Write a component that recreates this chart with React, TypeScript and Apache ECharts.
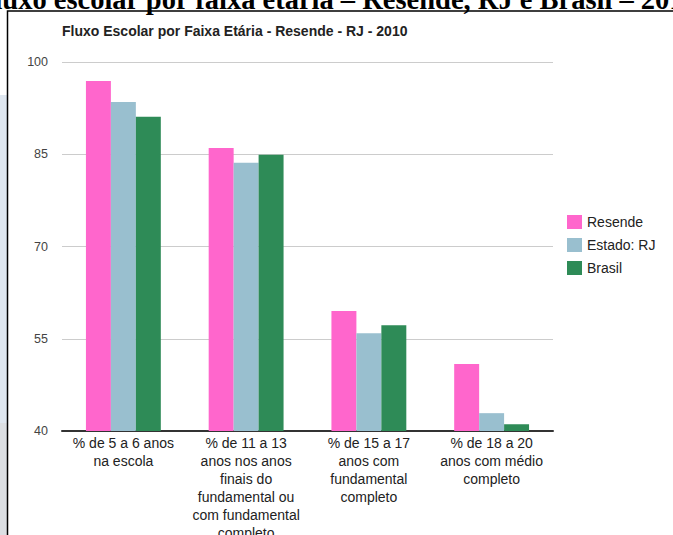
import React, { useEffect, useRef } from "react";
import * as echarts from "echarts";

const categories = [
  "% de 5 a 6 anos\nna escola",
  "% de 11 a 13\nanos nos anos\nfinais do\nfundamental ou\ncom fundamental\ncompleto",
  "% de 15 a 17\nanos com\nfundamental\ncompleto",
  "% de 18 a 20\nanos com médio\ncompleto",
];
const resende = [96.9, 86.0, 59.5, 50.9];
const estadoRJ = [93.5, 83.6, 55.9, 42.9];
const brasil = [91.1, 84.9, 57.2, 41.1];
const seriesNames = ["Resende", "Estado: RJ", "Brasil"];
const seriesColors = ["#ff66cc", "#99bfcf", "#2e8b57"];
const chartTitle = "Fluxo Escolar por Faixa Etária - Resende - RJ - 2010";
const headerText = "Fluxo escolar por faixa etária – Resende, RJ e Brasil – 2010";

export default function App() {
  const ref = useRef<HTMLDivElement>(null);
  useEffect(() => {
    if (!ref.current) return;
    const chart = echarts.init(ref.current, null, { renderer: "svg" });
    const font = "'Liberation Sans', Arial, sans-serif";
    const data = [resende, estadoRJ, brasil];
    chart.setOption({
      animation: false,
      backgroundColor: "#ffffff",
      textStyle: { fontFamily: font },
      title: {
        text: chartTitle,
        left: 62,
        top: 24,
        padding: 0,
        textStyle: { fontSize: 14, fontWeight: "bold", color: "#222", fontFamily: font },
      },
      legend: {
        orient: "vertical",
        left: 567,
        top: 215,
        padding: 0,
        itemWidth: 15,
        itemHeight: 14,
        itemGap: 9,
        icon: "rect",
        textStyle: { fontSize: 14, color: "#222", fontFamily: font },
        data: seriesNames,
      },
      grid: { left: 62, right: 120, top: 62, bottom: 104, outerBoundsMode: "none", containLabel: false },
      xAxis: {
        type: "category",
        data: categories,
        axisTick: { show: false },
        axisLine: { lineStyle: { color: "#333", width: 2 } },
        axisLabel: {
          interval: 0,
          color: "#222",
          fontSize: 14,
          lineHeight: 18,
          margin: 3,
          fontFamily: font,
        },
      },
      yAxis: {
        type: "value",
        min: 40,
        max: 100,
        interval: 15,
        axisLine: { show: false },
        axisTick: { show: false },
        splitLine: { lineStyle: { color: "#cccccc", width: 1 } },
        axisLabel: { color: "#444", fontSize: 12.5, margin: 14, fontFamily: font },
      },
      series: seriesNames.map((name, i) => ({
        name,
        type: "bar",
        data: data[i],
        barGap: "0%",
        barCategoryGap: "39%",
        itemStyle: { color: seriesColors[i] },
      })),
      graphic: [
        {
          type: "rect",
          shape: { x: 0, y: 95, width: 7, height: 328 },
          style: { fill: "#dfe7f0" },
        },
        {
          type: "rect",
          shape: { x: 0, y: 423, width: 7, height: 112 },
          style: { fill: "#dcdfe3" },
        },
        {
          type: "text",
          x: -23,
          y: 14,
          style: {
            text: headerText,
            fontFamily: "'Liberation Serif', 'Times New Roman', serif",
            fontWeight: "bold",
            fontSize: 28.5,
            fill: "#000",
            textVerticalAlign: "bottom",
          },
        },
        {
          type: "rect",
          shape: { x: 7.5, y: 11, width: 700, height: 600 },
          style: { fill: "none", stroke: "#000", lineWidth: 1.5 },
          silent: true,
        },
      ],
    });
    return () => chart.dispose();
  }, []);
  return (
    <div
      ref={ref}
      style={{ position: "absolute", left: 0, top: 0, width: 673, height: 535 }}
    />
  );
}
